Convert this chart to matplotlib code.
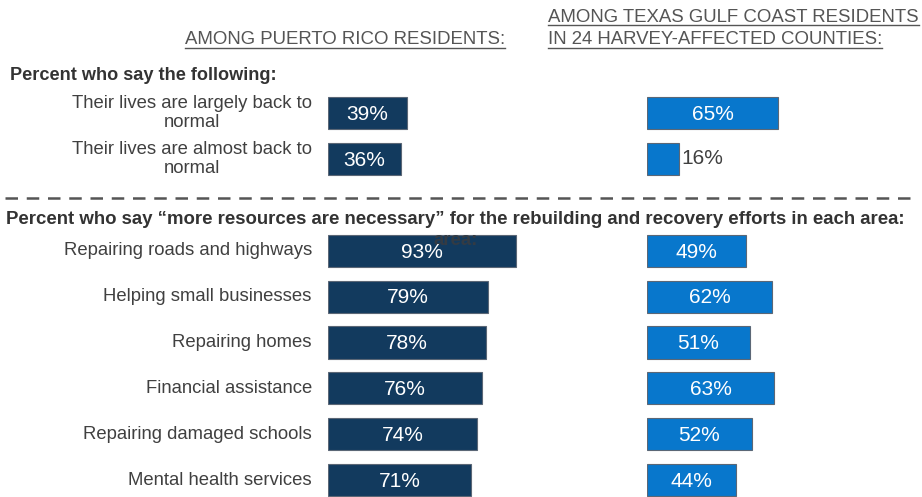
import matplotlib.pyplot as plt
from matplotlib.lines import Line2D

plt.rcParams['font.family'] = ['Liberation Sans', 'DejaVu Sans']

status_labels = ["Their lives are largely back to\nnormal",
                 "Their lives are almost back to\nnormal"]
pr_status = [39, 36]
tx_status = [65, 16]

need_labels = ["Repairing roads and highways", "Helping small businesses",
               "Repairing homes", "Financial assistance",
               "Repairing damaged schools", "Mental health services"]
pr_needs = [93, 79, 78, 76, 74, 71]
tx_needs = [49, 62, 51, 63, 52, 44]

rows = [0, 1, 3, 4, 5, 6, 7, 8]
labels = status_labels + need_labels
pr_vals = pr_status + pr_needs
tx_vals = tx_status + tx_needs

W, H = 922, 497
NAVY = "#123a5e"
BLUE = "#0877cc"
TXT = "#404040"

fig = plt.figure(figsize=(W / 100, H / 100), dpi=100)


def fx(px):
    return px / W


def fy(py):
    return 1 - py / H


# row p sits at 113 + 45.9*p pixels from the top
top_px = 113 - 45.9 * 0.5
bot_px = 113 + 45.9 * 8.45
ax_pr = fig.add_axes([fx(328), fy(bot_px), 202 / W, (bot_px - top_px) / H])
ax_tx = fig.add_axes([fx(647), fy(bot_px), 202 / W, (bot_px - top_px) / H])

for ax, vals, col in [(ax_pr, pr_vals, NAVY), (ax_tx, tx_vals, BLUE)]:
    ax.set_xlim(0, 100)
    ax.set_ylim(8.45, -0.5)
    ax.axis("off")
    ax.barh(rows, vals, height=0.7, color=col, edgecolor="#5b6776",
            linewidth=0.8, zorder=2)
    for r, v in zip(rows, vals):
        if v < 20:
            ax.text(v + 1.2, r, f"{v}%", ha="left", va="center",
                    fontsize=15, color=TXT, zorder=4)
        else:
            ax.text(v / 2, r + 0.03, f"{v}%", ha="center", va="center",
                    fontsize=15, color="white", zorder=4)

for r, lab in zip(rows, labels):
    ax_pr.text(-8, r, lab, ha="right", va="center", multialignment="center",
               fontsize=13.3, color=TXT, linespacing=1.1)

# leftover word from the wrapped section heading
ax_pr.text(52, 2.77, "area:", ha="left", va="center", fontsize=13.4,
           fontweight="bold", color="#333b44", zorder=3)

fig.text(fx(10), fy(75), "Percent who say the following:", ha="left",
         va="center", fontsize=13.1, fontweight="bold", color="#333333")
fig.text(fx(6), fy(220),
         "Percent who say \u201cmore resources are necessary\u201d for the "
         "rebuilding and recovery efforts in each area:",
         ha="left", va="center", fontsize=13.4, fontweight="bold",
         color="#333333")

fig.add_artist(Line2D([fx(5), fx(915)], [fy(198), fy(198)],
                      transform=fig.transFigure, color="#555555",
                      linewidth=1.8, dashes=(5, 3.5)))

headers = [
    (fx(505), fy(40), "AMONG PUERTO RICO RESIDENTS:", "right"),
    (fx(548), fy(17), "AMONG TEXAS GULF COAST RESIDENTS", "left"),
    (fx(548), fy(40), "IN 24 HARVEY-AFFECTED COUNTIES:", "left"),
]
htexts = [fig.text(x, y, s, ha=ha, va="center", fontsize=13.4,
                   color="#555555") for x, y, s, ha in headers]

fig.canvas.draw()
renderer = fig.canvas.get_renderer()
for t in htexts:
    bb = t.get_window_extent(renderer)
    yline = (bb.y0 + 1) / H
    fig.add_artist(Line2D([bb.x0 / W, bb.x1 / W], [yline, yline],
                          transform=fig.transFigure, color="#555555",
                          linewidth=1.0))

fig.savefig("out.png", dpi=100)
